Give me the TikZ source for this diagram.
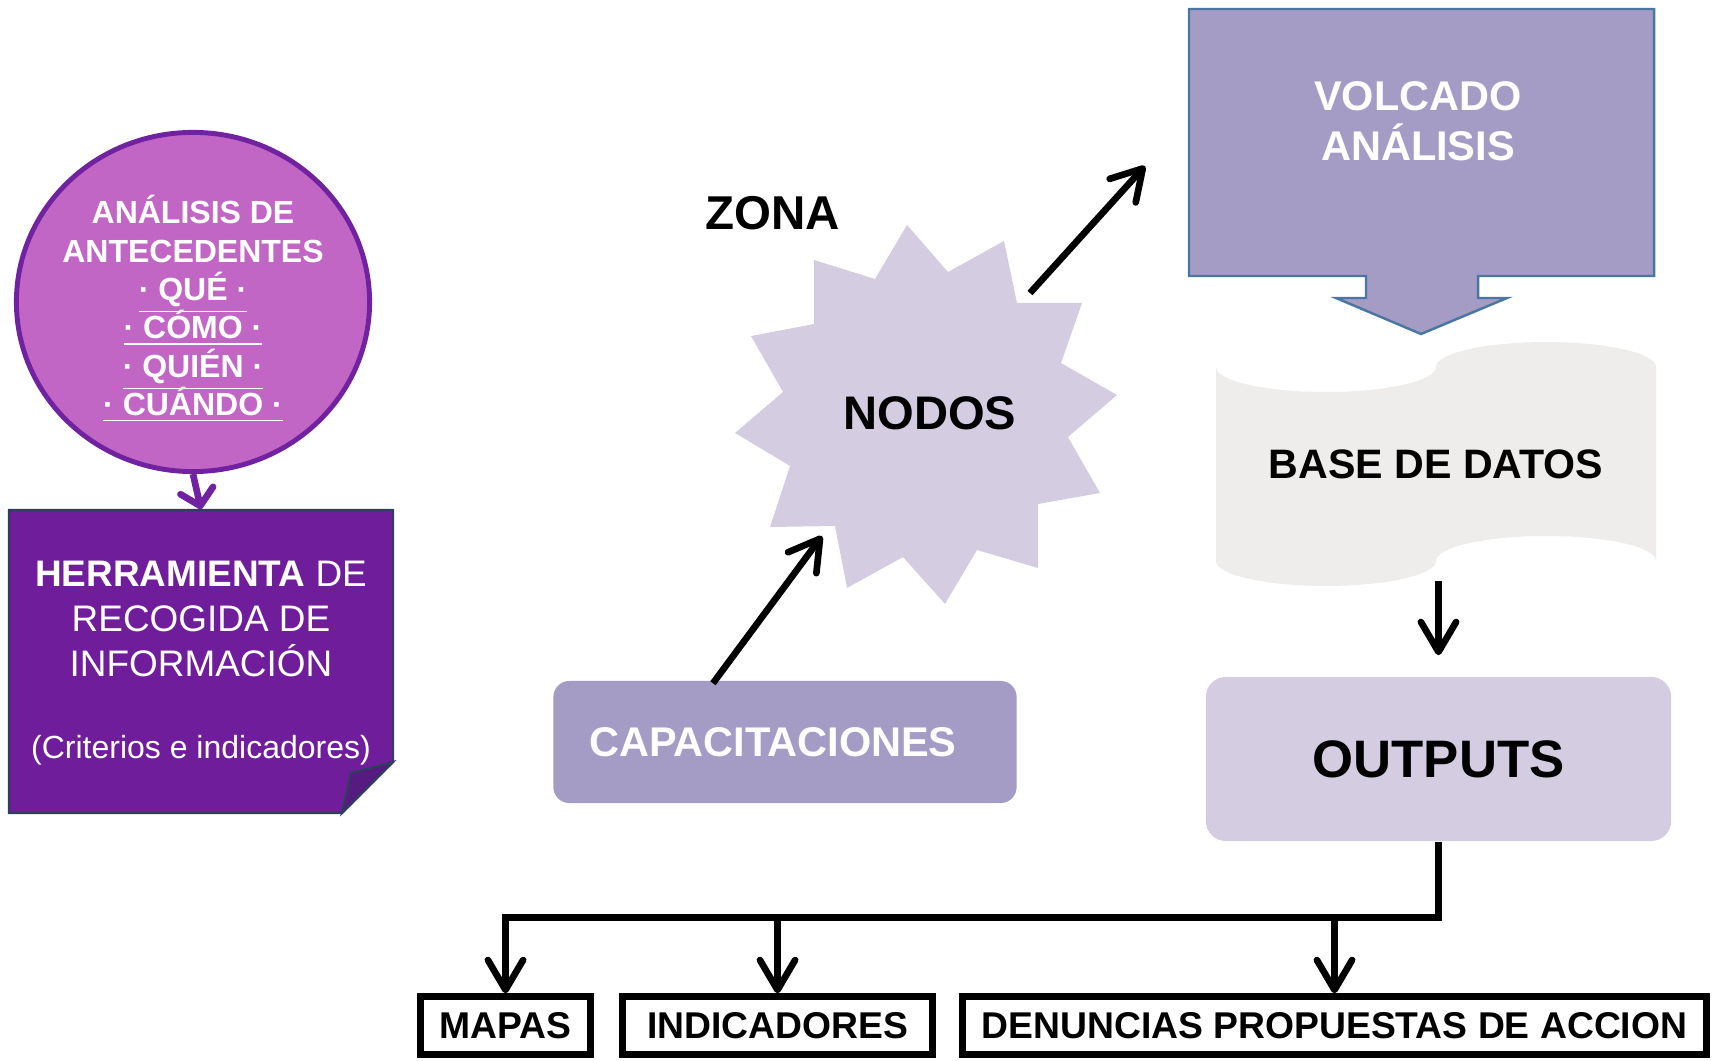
\documentclass[tikz,border=0pt]{standalone}
\usepackage{fontspec}
\setmainfont{Liberation Sans}
\usetikzlibrary{shapes.geometric,arrows.meta}

\definecolor{elfill}{HTML}{C266C6}
\definecolor{elline}{HTML}{7022A0}
\definecolor{herfill}{HTML}{6F1D9B}
\definecolor{herfold}{HTML}{561A80}
\definecolor{herline}{HTML}{2E3F5E}
\definecolor{lavmid}{HTML}{A49CC4}
\definecolor{lavlight}{HTML}{D4CDE1}
\definecolor{volline}{HTML}{4A76A2}
\definecolor{basegray}{HTML}{EEEDEB}

\newcommand{\fs}[2]{\fontsize{#1}{#2}\selectfont\lineskiplimit=-20pt}
\newcommand{\rayado}[1]{\underline{#1}}
\newcommand{\salida}[4]{% #1: name, #2: x center, #3: width in cm, #4: text
	\node[salidabox,minimum width=#3cm] (#1) at (#2,1025.5) {#4};
}

\begin{document}
\begin{tikzpicture}[x=0.01cm,y=-0.01cm,
		arr/.style={line width=1.9pt,-{Straight Barb[length=8.5pt,width=10pt,round]}},
		salidabox/.style={draw,line width=1.95pt,minimum height=0.575cm,inner sep=0pt,font=\fs{10.6}{12}\bfseries}]
	\useasboundingbox (0,0) rectangle (1715,1061);
	
	% Analisis de antecedentes
	\node[ellipse,draw=elline,line width=1.4pt,fill=elfill,minimum width=3.53cm,minimum height=3.39cm,inner sep=0pt] (antecedentes) at (193,302) {};
	\node[text=white,align=center,font=\fs{9.1}{10.9}\bfseries] (antectxt) at (193,309)
		{ANÁLISIS DE\\ANTECEDENTES\\\rayado{· QUÉ ·}\\\rayado{· CÓMO ·}\\\rayado{· QUIÉN ·}\\\rayado{· CUÁNDO ·}};
	
	% Herramienta with folded corner
	\node[minimum width=3.84cm,minimum height=3.03cm,inner sep=0pt] (herramienta) at (201,661.5) {};
	\filldraw[fill=herfill,draw=herline,line width=0.6pt] (9,510) -- (393,510) -- (393,762) -- (342,813) -- (9,813) -- cycle;
	\filldraw[fill=herfold,draw=herline,line width=0.6pt] (393,762) -- (351,773) -- (342,813) -- cycle;
	\node[text=white,align=center,font=\fs{10.5}{12.8}] (herrtxt) at (201,619)
		{{\bfseries HERRAMIENTA} DE\\RECOGIDA DE\\INFORMACIÓN};
	\node[text=white,font=\fs{9.1}{11}] (criterios) at (201,750) {(Criterios e indicadores)};
	\draw[elline,line width=1.9pt,-{Straight Barb[length=4.5pt,width=9.5pt,round]}] (antecedentes.south) -- (herramienta.north);
	
	% Zona y nodos
	\node[font=\fs{13.5}{16}\bfseries] (zona) at (773,213) {ZONA};
	\fill[lavlight] (907,225) -- (948,272) -- (1004,241) -- (1017,303) -- (1082,303) -- (1061,363)
		-- (1117,395) -- (1068,437) -- (1100,493) -- (1038,504) -- (1038,568) -- (977,550)
		-- (945,604) -- (903,557) -- (847,588) -- (835,526) -- (770,527) -- (790,466)
		-- (735,433) -- (783,392) -- (751,336) -- (814,324) -- (814,260) -- (875,279) -- cycle;
	\node[font=\fs{13.4}{16}\bfseries] (nodos) at (930,413) {NODOS};
	\coordinate (nodosin) at (822,536);
	\coordinate (nodosout) at (1030,293);
	
	% Capacitaciones
	\node[fill=lavmid,rounded corners=0.16cm,minimum width=4.63cm,minimum height=1.22cm,inner sep=0pt,
		text=white,font=\fs{11.8}{14}\bfseries] (capacitaciones) at (785,742) {CAPACITACIONES\hspace*{0.24cm}};
	\draw[arr] ([xshift=-7.2mm,yshift=-0.3mm]capacitaciones.north) -- (nodosin);
	
	% Volcado analisis (block arrow)
	\filldraw[fill=lavmid,draw=volline,line width=0.7pt] (1189,9) -- (1654,9) -- (1654,276) -- (1478,276) -- (1478,298)
		-- (1507,298) -- (1421,334) -- (1336,298) -- (1366,298) -- (1366,276) -- (1189,276) -- cycle;
	\node[text=white,align=center,font=\fs{11.8}{14.1}\bfseries] (volcado) at (1418,121) {VOLCADO\\ANÁLISIS};
	\coordinate (volcin) at (1145,166);
	\draw[arr] (nodosout) -- (volcin);
	
	% Base de datos
	\fill[basegray] (1216,367) .. controls (1216,380.8) and (1265.3,392) .. (1326,392)
		.. controls (1386.7,392) and (1436,380.8) .. (1436,367)
		.. controls (1436,353.2) and (1485.3,342) .. (1546,342)
		.. controls (1606.7,342) and (1656,353.2) .. (1656,367) -- (1656,561)
		.. controls (1656,547.2) and (1606.7,536) .. (1546,536)
		.. controls (1485.3,536) and (1436,547.2) .. (1436,561)
		.. controls (1436,574.8) and (1386.7,586) .. (1326,586)
		.. controls (1265.3,586) and (1216,574.8) .. (1216,561) -- cycle;
	\node[minimum width=4.4cm,minimum height=2.32cm,inner sep=0pt,font=\fs{11.7}{14}\bfseries] (base) at (1436,464) {BASE DE DATOS};
	
	% Outputs
	\node[fill=lavlight,rounded corners=0.2cm,minimum width=4.65cm,minimum height=1.64cm,inner sep=0pt,
		font=\fs{15}{18}\bfseries] (outputs) at (1438.5,759) {OUTPUTS};
	\draw[arr] (base.south -| outputs.north) -- ([yshift=2.1mm]outputs.north);
	
	% Salidas
	\salida{mapas}{505.5}{1.7}{MAPAS}
	\salida{indicadores}{777.5}{3.1}{INDICADORES}
	\salida{denuncias}{1334.5}{7.44}{DENUNCIAS PROPUESTAS DE ACCION}
	\draw[arr] (outputs.south) -- ++(0,75.6) -| (mapas.north);
	\draw[arr] (outputs.south) -- ++(0,75.6) -| (indicadores.north);
	\draw[arr] (outputs.south) -- ++(0,75.6) -| (denuncias.north);
\end{tikzpicture}
\end{document}
